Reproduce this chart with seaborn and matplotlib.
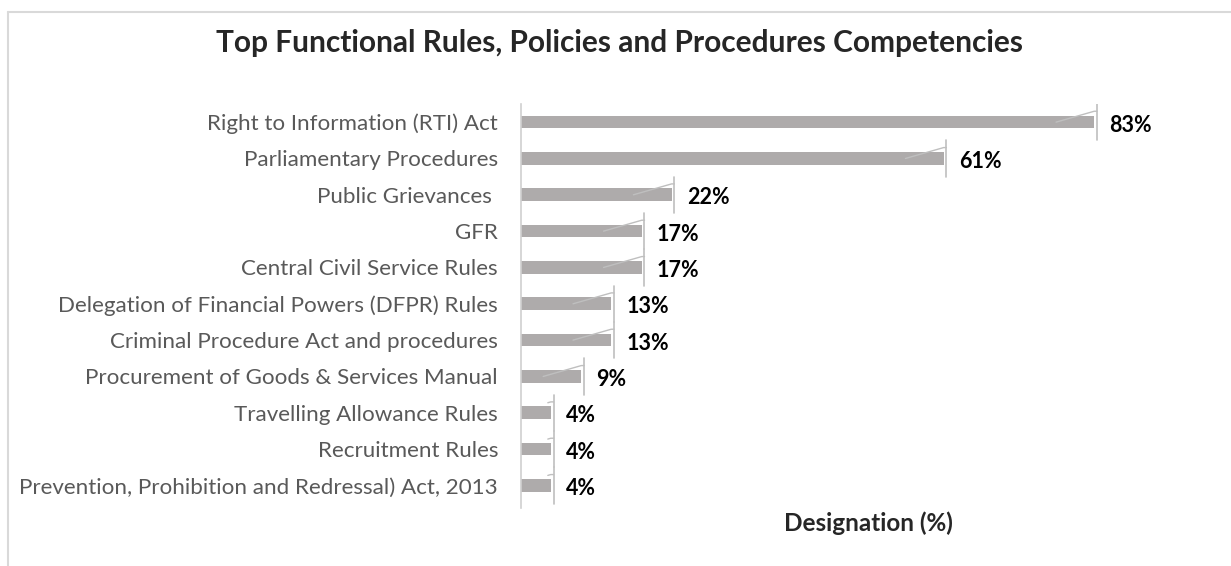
import matplotlib
matplotlib.use("Agg")
import matplotlib.pyplot as plt
from matplotlib.lines import Line2D
import seaborn as sns
import pandas as pd

categories = [
    "Right to Information (RTI) Act",
    "Parliamentary Procedures",
    "Public Grievances ",
    "GFR",
    "Central Civil Service Rules",
    "Delegation of Financial Powers (DFPR) Rules",
    "Criminal Procedure Act and procedures",
    "Procurement of Goods & Services Manual",
    "Travelling Allowance Rules",
    "Recruitment Rules",
    "Prevention, Prohibition and Redressal) Act, 2013",
]
values = [82.6, 60.9, 21.7, 17.4, 17.4, 13.0, 13.0, 8.7, 4.3, 4.3, 4.3]

df = pd.DataFrame({"rule": categories, "pct": values})

sns.set_style("white")
plt.rcParams["font.family"] = ["Lato", "DejaVu Sans"]

fig = plt.figure(figsize=(12.31, 5.66), dpi=100)
ax = fig.add_axes([0.4232, 0.1025, 0.5638, 0.7138])

sns.barplot(data=df, x="pct", y="rule", orient="h", color="#AEABAB",
            width=0.35, saturation=1, edgecolor="none", ax=ax)

ax.set_xlim(0, 100)
ax.set_ylim(10.62, -0.5)

# leader lines + labels like the excel data callouts
lc = "#BFBFBF"
for i, v in enumerate(values):
    xv = v + 0.4
    ax.plot([xv, xv], [i - 0.5, i + 0.5], color=lc, lw=1.2, zorder=3)
    dx = min(5.5, v * 0.1) if v < 6 else 5.5
    ax.plot([v - dx, v, xv], [i - 0.3 + 0.3 * dx / 5.5, i - 0.3, i - 0.3],
            color=lc, lw=1.0, zorder=3)
    ax.text(v + 2.2, i + 0.08, f"{v:.0f}%", ha="left", va="center",
            fontsize=15.5, fontweight="bold", color="black")

for s in ["top", "right", "bottom"]:
    ax.spines[s].set_visible(False)
ax.spines["left"].set_color("#D0D0D0")
ax.spines["left"].set_linewidth(1.2)

ax.set_xticks([])
ax.tick_params(axis="y", length=0, pad=16.5, labelsize=16.1, labelcolor="#595959")
ax.set_ylabel("")
ax.set_xlabel("Designation (%)", fontsize=17.5, fontweight="bold", va="center")
ax.xaxis.set_label_coords(0.5, -0.037)

fig.text(619 / 1231, 1 - 43 / 566,
         "Top Functional Rules, Policies and Procedures Competencies",
         ha="center", va="center", fontsize=21.5, fontweight="bold")

# chart border (only top and left edges visible in the crop)
fig.add_artist(Line2D([8 / 1231, 8 / 1231], [0, 1 - 12 / 566], color="#D9D9D9", lw=1.5))
fig.add_artist(Line2D([8 / 1231, 1], [1 - 12 / 566, 1 - 12 / 566], color="#D9D9D9", lw=1.5))

fig.savefig("out.png", dpi=100)
